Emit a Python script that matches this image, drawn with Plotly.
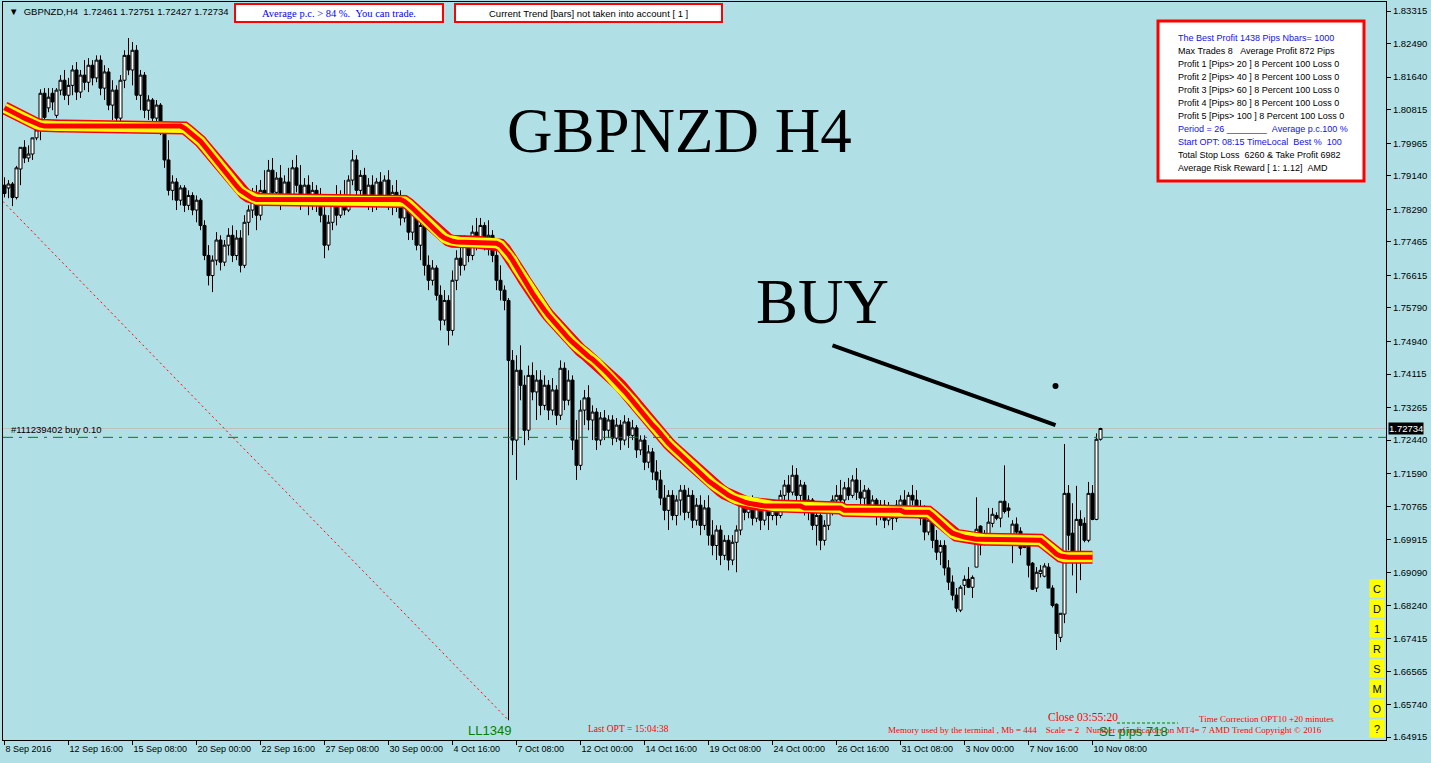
import plotly.graph_objects as go

# GBPNZD H4 bars, 8 Sep 2016 00:00 .. 10 Nov 2016 16:00 (one row = 16 bars)
opens = [
    1.7890, 1.7883, 1.7893, 1.7859, 1.7931, 1.7986, 1.7959, 1.7969, 1.8010, 1.8030, 1.8123, 1.8086, 1.8123, 1.8067, 1.8131, 1.8156,
    1.8118, 1.8143, 1.8182, 1.8126, 1.8169, 1.8151, 1.8194, 1.8162, 1.8207, 1.8136, 1.8177, 1.8093, 1.8131, 1.8060, 1.8156, 1.8219,
    1.8182, 1.8232, 1.8118, 1.8169, 1.8080, 1.8106, 1.8060, 1.8093, 1.8030, 1.7954, 1.7877, 1.7898, 1.7852, 1.7883, 1.7839, 1.7864,
    1.7827, 1.7852, 1.7788, 1.7712, 1.7661, 1.7700, 1.7751, 1.7695, 1.7738, 1.7763, 1.7712, 1.7756, 1.7687, 1.7796, 1.7827, 1.7864,
    1.7814, 1.7877, 1.7857, 1.7928, 1.7872, 1.7908, 1.7852, 1.7898, 1.7864, 1.7934, 1.7890, 1.7852, 1.7890, 1.7839, 1.7877, 1.7852,
    1.7814, 1.7738, 1.7796, 1.7839, 1.7814, 1.7864, 1.7827, 1.7903, 1.7954, 1.7877, 1.7915, 1.7857, 1.7890, 1.7839, 1.7898, 1.7864,
    1.7903, 1.7852, 1.7872, 1.7839, 1.7807, 1.7839, 1.7771, 1.7822, 1.7738, 1.7788, 1.7687, 1.7649, 1.7680, 1.7611, 1.7548, 1.7598,
    1.7522, 1.7649, 1.7705, 1.7687, 1.7738, 1.7712, 1.7771, 1.7751, 1.7788, 1.7738, 1.7763, 1.7712, 1.7649, 1.7624, 1.7598, 1.7446,
    1.7244, 1.7421, 1.7383, 1.7269, 1.7408, 1.7366, 1.7396, 1.7332, 1.7383, 1.7320, 1.7371, 1.7307, 1.7426, 1.7345, 1.7396, 1.7244,
    1.7180, 1.7320, 1.7351, 1.7295, 1.7315, 1.7244, 1.7300, 1.7269, 1.7295, 1.7249, 1.7282, 1.7244, 1.7290, 1.7256, 1.7275, 1.7219,
    1.7244, 1.7188, 1.7214, 1.7163, 1.7143, 1.7097, 1.7066, 1.7104, 1.7053, 1.7092, 1.7117, 1.7061, 1.7104, 1.7041, 1.7079, 1.7028,
    1.7072, 1.7003, 1.6977, 1.7016, 1.6952, 1.6990, 1.6940, 1.6985, 1.7016, 1.7079, 1.7061, 1.7087, 1.7046, 1.7079, 1.7041, 1.7072,
    1.7053, 1.7079, 1.7053, 1.7104, 1.7130, 1.7112, 1.7155, 1.7104, 1.7130, 1.7066, 1.7092, 1.7028, 1.7053, 1.6990, 1.7028, 1.7066,
    1.7092, 1.7104, 1.7092, 1.7123, 1.7104, 1.7143, 1.7112, 1.7097, 1.7117, 1.7079, 1.7092, 1.7053, 1.7079, 1.7041, 1.7072, 1.7046,
    1.7079, 1.7092, 1.7072, 1.7104, 1.7092, 1.7066, 1.7046, 1.7011, 1.7041, 1.6990, 1.6960, 1.6977, 1.6920, 1.6884, 1.6851, 1.6813,
    1.6876, 1.6891, 1.6871, 1.6922, 1.7026, 1.6998, 1.6982, 1.7033, 1.7053, 1.7046, 1.7089, 1.7072, 1.6977, 1.7031, 1.7013, 1.6977,
    1.6975, 1.6932, 1.6869, 1.6906, 1.6899, 1.6922, 1.6869, 1.6828, 1.6744, 1.6803, 1.7109, 1.7008, 1.6935, 1.7043, 1.7033, 1.6990,
    1.7109, 1.7043, 1.72461,
]
highs = [
    1.7910, 1.7903, 1.7898, 1.7939, 1.7986, 1.8004, 1.7991, 1.8010, 1.8047, 1.8133, 1.8136, 1.8136, 1.8136, 1.8136, 1.8169, 1.8182,
    1.8162, 1.8194, 1.8202, 1.8182, 1.8207, 1.8212, 1.8207, 1.8219, 1.8219, 1.8194, 1.8187, 1.8156, 1.8143, 1.8169, 1.8232, 1.8263,
    1.8253, 1.8245, 1.8182, 1.8177, 1.8118, 1.8111, 1.8106, 1.8098, 1.8042, 1.8004, 1.7915, 1.7908, 1.7890, 1.7890, 1.7877, 1.7872,
    1.7864, 1.7857, 1.7801, 1.7738, 1.7712, 1.7771, 1.7763, 1.7751, 1.7781, 1.7788, 1.7776, 1.7776, 1.7814, 1.7839, 1.7883, 1.7890,
    1.7903, 1.7928, 1.7954, 1.7959, 1.7923, 1.7941, 1.7915, 1.7934, 1.7954, 1.7966, 1.7941, 1.7908, 1.7915, 1.7898, 1.7890, 1.7883,
    1.7839, 1.7814, 1.7852, 1.7890, 1.7877, 1.7903, 1.7915, 1.7979, 1.7966, 1.7928, 1.7934, 1.7908, 1.7915, 1.7908, 1.7923, 1.7915,
    1.7928, 1.7890, 1.7903, 1.7877, 1.7852, 1.7852, 1.7839, 1.7827, 1.7807, 1.7796, 1.7712, 1.7700, 1.7687, 1.7636, 1.7624, 1.7611,
    1.7674, 1.7725, 1.7751, 1.7763, 1.7756, 1.7788, 1.7807, 1.7807, 1.7796, 1.7801, 1.7776, 1.7751, 1.7687, 1.7636, 1.7604, 1.7472,
    1.7459, 1.7484, 1.7408, 1.7433, 1.7441, 1.7421, 1.7421, 1.7408, 1.7396, 1.7401, 1.7383, 1.7446, 1.7441, 1.7421, 1.7408, 1.7295,
    1.7345, 1.7371, 1.7383, 1.7332, 1.7325, 1.7315, 1.7320, 1.7307, 1.7307, 1.7300, 1.7295, 1.7307, 1.7300, 1.7295, 1.7282, 1.7256,
    1.7256, 1.7231, 1.7224, 1.7193, 1.7168, 1.7130, 1.7117, 1.7117, 1.7104, 1.7130, 1.7130, 1.7123, 1.7117, 1.7097, 1.7104, 1.7092,
    1.7104, 1.7041, 1.7028, 1.7028, 1.7003, 1.7003, 1.7003, 1.7028, 1.7092, 1.7104, 1.7097, 1.7104, 1.7092, 1.7097, 1.7092, 1.7087,
    1.7092, 1.7092, 1.7117, 1.7143, 1.7155, 1.7180, 1.7173, 1.7143, 1.7138, 1.7104, 1.7097, 1.7079, 1.7066, 1.7041, 1.7079, 1.7104,
    1.7130, 1.7143, 1.7138, 1.7148, 1.7155, 1.7173, 1.7143, 1.7130, 1.7123, 1.7104, 1.7097, 1.7092, 1.7092, 1.7087, 1.7079, 1.7092,
    1.7104, 1.7117, 1.7112, 1.7130, 1.7117, 1.7092, 1.7079, 1.7053, 1.7046, 1.7016, 1.6990, 1.6990, 1.6940, 1.6901, 1.6869, 1.6876,
    1.6901, 1.6922, 1.6901, 1.7099, 1.7028, 1.7016, 1.7072, 1.7072, 1.7061, 1.7089, 1.7180, 1.7084, 1.7041, 1.7048, 1.7023, 1.6996,
    1.6982, 1.6935, 1.6922, 1.6927, 1.6932, 1.6932, 1.6876, 1.6830, 1.6805, 1.7234, 1.7130, 1.7084, 1.7128, 1.7066, 1.7048, 1.7138,
    1.7130, 1.7261, 1.72751,
]
lows = [
    1.7859, 1.7857, 1.7837, 1.7854, 1.7890, 1.7946, 1.7949, 1.7954, 1.8004, 1.8004, 1.8055, 1.8075, 1.8080, 1.8060, 1.8118, 1.8106,
    1.8093, 1.8118, 1.8106, 1.8111, 1.8131, 1.8126, 1.8143, 1.8151, 1.8118, 1.8106, 1.8080, 1.8055, 1.8035, 1.8050, 1.8136, 1.8169,
    1.8143, 1.8106, 1.8080, 1.8060, 1.8055, 1.8042, 1.8042, 1.8017, 1.7934, 1.7864, 1.7852, 1.7827, 1.7839, 1.7822, 1.7827, 1.7814,
    1.7796, 1.7776, 1.7700, 1.7636, 1.7619, 1.7687, 1.7674, 1.7685, 1.7712, 1.7695, 1.7700, 1.7669, 1.7680, 1.7763, 1.7807, 1.7776,
    1.7801, 1.7839, 1.7847, 1.7852, 1.7857, 1.7827, 1.7839, 1.7852, 1.7857, 1.7872, 1.7827, 1.7839, 1.7814, 1.7827, 1.7822, 1.7796,
    1.7705, 1.7725, 1.7776, 1.7788, 1.7807, 1.7814, 1.7822, 1.7890, 1.7852, 1.7864, 1.7839, 1.7827, 1.7822, 1.7827, 1.7852, 1.7839,
    1.7827, 1.7814, 1.7822, 1.7788, 1.7796, 1.7751, 1.7751, 1.7725, 1.7700, 1.7661, 1.7624, 1.7636, 1.7598, 1.7522, 1.7535, 1.7484,
    1.7509, 1.7624, 1.7661, 1.7674, 1.7695, 1.7700, 1.7725, 1.7731, 1.7725, 1.7712, 1.7695, 1.7624, 1.7598, 1.7573, 1.6534, 1.7206,
    1.7143, 1.7345, 1.7231, 1.7244, 1.7345, 1.7295, 1.7307, 1.7320, 1.7295, 1.7307, 1.7282, 1.7295, 1.7320, 1.7332, 1.7219, 1.7143,
    1.7168, 1.7282, 1.7269, 1.7244, 1.7219, 1.7231, 1.7244, 1.7249, 1.7231, 1.7239, 1.7219, 1.7231, 1.7224, 1.7244, 1.7199, 1.7206,
    1.7168, 1.7173, 1.7143, 1.7117, 1.7079, 1.7041, 1.7016, 1.7041, 1.7028, 1.7053, 1.7041, 1.7046, 1.7021, 1.7028, 1.7003, 1.7016,
    1.6977, 1.6952, 1.6940, 1.6927, 1.6940, 1.6914, 1.6927, 1.6909, 1.7003, 1.7041, 1.7046, 1.7028, 1.7036, 1.7016, 1.7028, 1.7016,
    1.7041, 1.7028, 1.7046, 1.7079, 1.7092, 1.7104, 1.7092, 1.7079, 1.7053, 1.7041, 1.7016, 1.6977, 1.6965, 1.6977, 1.7016, 1.7053,
    1.7066, 1.7079, 1.7079, 1.7092, 1.7097, 1.7092, 1.7079, 1.7066, 1.7061, 1.7053, 1.7028, 1.7041, 1.7021, 1.7028, 1.7016, 1.7036,
    1.7053, 1.7061, 1.7061, 1.7079, 1.7053, 1.7028, 1.6990, 1.7003, 1.6970, 1.6940, 1.6927, 1.6901, 1.6864, 1.6838, 1.6808, 1.6808,
    1.6851, 1.6869, 1.6844, 1.6922, 1.6952, 1.6977, 1.6982, 1.7023, 1.7041, 1.7023, 1.7058, 1.7048, 1.6932, 1.7003, 1.6952, 1.6970,
    1.6896, 1.6864, 1.6859, 1.6896, 1.6896, 1.6869, 1.6820, 1.6712, 1.6732, 1.6780, 1.6965, 1.6901, 1.6856, 1.6889, 1.6985, 1.6985,
    1.7041, 1.7041, 1.72427,
]
closes = [
    1.7869, 1.7893, 1.7859, 1.7934, 1.7986, 1.7959, 1.7969, 1.8010, 1.8030, 1.8123, 1.8062, 1.8113, 1.8101, 1.8131, 1.8156, 1.8118,
    1.8143, 1.8182, 1.8126, 1.8169, 1.8151, 1.8194, 1.8162, 1.8207, 1.8136, 1.8177, 1.8093, 1.8131, 1.8060, 1.8156, 1.8219, 1.8182,
    1.8232, 1.8118, 1.8169, 1.8080, 1.8106, 1.8060, 1.8093, 1.8030, 1.7954, 1.7877, 1.7898, 1.7852, 1.7883, 1.7839, 1.7864, 1.7827,
    1.7852, 1.7788, 1.7712, 1.7661, 1.7700, 1.7751, 1.7695, 1.7738, 1.7763, 1.7712, 1.7756, 1.7687, 1.7796, 1.7827, 1.7864, 1.7814,
    1.7877, 1.7857, 1.7928, 1.7872, 1.7908, 1.7852, 1.7898, 1.7864, 1.7934, 1.7890, 1.7852, 1.7890, 1.7839, 1.7877, 1.7852, 1.7814,
    1.7738, 1.7796, 1.7839, 1.7814, 1.7864, 1.7827, 1.7903, 1.7954, 1.7877, 1.7915, 1.7857, 1.7890, 1.7839, 1.7898, 1.7864, 1.7903,
    1.7852, 1.7872, 1.7839, 1.7807, 1.7839, 1.7771, 1.7822, 1.7738, 1.7788, 1.7687, 1.7649, 1.7680, 1.7611, 1.7548, 1.7598, 1.7522,
    1.7649, 1.7705, 1.7687, 1.7738, 1.7712, 1.7771, 1.7751, 1.7788, 1.7738, 1.7763, 1.7712, 1.7649, 1.7624, 1.7598, 1.7446, 1.7244,
    1.7421, 1.7383, 1.7269, 1.7408, 1.7366, 1.7396, 1.7332, 1.7383, 1.7320, 1.7371, 1.7307, 1.7426, 1.7345, 1.7396, 1.7244, 1.7180,
    1.7320, 1.7351, 1.7295, 1.7315, 1.7244, 1.7300, 1.7269, 1.7295, 1.7249, 1.7282, 1.7244, 1.7290, 1.7256, 1.7275, 1.7219, 1.7244,
    1.7188, 1.7214, 1.7163, 1.7143, 1.7097, 1.7066, 1.7104, 1.7053, 1.7092, 1.7117, 1.7061, 1.7104, 1.7041, 1.7079, 1.7028, 1.7072,
    1.7003, 1.6977, 1.7016, 1.6952, 1.6990, 1.6940, 1.6985, 1.7016, 1.7079, 1.7061, 1.7087, 1.7046, 1.7079, 1.7041, 1.7072, 1.7053,
    1.7079, 1.7053, 1.7104, 1.7130, 1.7112, 1.7155, 1.7104, 1.7130, 1.7066, 1.7092, 1.7028, 1.7053, 1.6990, 1.7028, 1.7066, 1.7092,
    1.7104, 1.7092, 1.7123, 1.7104, 1.7143, 1.7112, 1.7097, 1.7117, 1.7079, 1.7092, 1.7053, 1.7079, 1.7041, 1.7072, 1.7046, 1.7079,
    1.7092, 1.7072, 1.7104, 1.7092, 1.7066, 1.7046, 1.7011, 1.7041, 1.6990, 1.6960, 1.6977, 1.6920, 1.6884, 1.6851, 1.6818, 1.6871,
    1.6891, 1.6871, 1.6896, 1.7018, 1.6985, 1.6985, 1.7036, 1.7056, 1.7046, 1.7089, 1.7063, 1.7066, 1.7031, 1.7011, 1.6970, 1.6972,
    1.6927, 1.6866, 1.6909, 1.6914, 1.6925, 1.6869, 1.6825, 1.6754, 1.6805, 1.7109, 1.7003, 1.6935, 1.7043, 1.7028, 1.6990, 1.7109,
    1.7043, 1.7246, 1.72734,
]

# AMD trend band buffer
trend = (
    [1.8086, 1.8080, 1.8075, 1.8070, 1.8065, 1.8060, 1.8055, 1.8050, 1.8045, 1.8042] + [1.8040] * 35
    + [1.8035, 1.8027, 1.8020, 1.8012, 1.8001, 1.7989, 1.7976, 1.7961, 1.7949, 1.7936, 1.7923, 1.7913,
       1.7900, 1.7888, 1.7877, 1.7869, 1.7862, 1.7857] + [1.7854] * 37
    + [1.7849, 1.7842, 1.7832, 1.7822, 1.7812, 1.7801, 1.7791, 1.7781, 1.7771, 1.7763, 1.7756, 1.7751, 1.7748]
    + [1.7746] * 10
    + [1.7743, 1.7738, 1.7728, 1.7715, 1.7700, 1.7682, 1.7666, 1.7649, 1.7631, 1.7616, 1.7601, 1.7585, 1.7573,
       1.7560, 1.7548, 1.7535, 1.7522, 1.7512, 1.7502, 1.7492, 1.7482, 1.7472, 1.7464, 1.7456, 1.7449, 1.7441,
       1.7431, 1.7421, 1.7411, 1.7401, 1.7391, 1.7381, 1.7368, 1.7356, 1.7343, 1.7330, 1.7317, 1.7305, 1.7295,
       1.7282, 1.7272, 1.7259, 1.7249, 1.7236, 1.7226, 1.7216, 1.7206, 1.7196, 1.7186, 1.7176, 1.7168, 1.7158,
       1.7150, 1.7140, 1.7133, 1.7125, 1.7117, 1.7110, 1.7104, 1.7099, 1.7094, 1.7092, 1.7087, 1.7084, 1.7082, 1.7079]
    + [1.7077] * 11 + [1.7072] * 10 + [1.7066] * 15 + [1.7061] * 7
    + [1.7053, 1.7043, 1.7033, 1.7023, 1.7016, 1.7008, 1.7003, 1.7001, 1.6998, 1.6996]
    + [1.6993] * 17
    + [1.6990, 1.6982, 1.6972, 1.6962, 1.6955, 1.6950] + [1.6947] * 8 + [None, None]
)

tick_bars = [0, 16, 32, 48, 64, 80, 96, 112, 128, 144, 160, 176, 192, 208, 224, 240, 256, 272]
tick_labels = ["8 Sep 2016", "12 Sep 16:00", "15 Sep 08:00", "20 Sep 00:00", "22 Sep 16:00", "27 Sep 08:00",
               "30 Sep 00:00", "4 Oct 16:00", "7 Oct 08:00", "12 Oct 00:00", "14 Oct 16:00", "19 Oct 08:00",
               "24 Oct 00:00", "26 Oct 16:00", "31 Oct 08:00", "3 Nov 00:00", "7 Nov 16:00", "10 Nov 08:00"]
price_ticks = [1.83315, 1.82490, 1.81640, 1.80815, 1.79965, 1.79140, 1.78290, 1.77465, 1.76615, 1.75790, 1.74940,
               1.74115, 1.73265, 1.72440, 1.71590, 1.70765, 1.69915, 1.69090, 1.68240, 1.67415, 1.66565, 1.65740, 1.64915]

# objects drawn on the chart (bar index, price)
buy_line_x = [207, 262.75]
buy_line_y = [1.7484, 1.7282]
buy_dot_x = [262.75]
buy_dot_y = [1.7381]
ll_line_x = [-0.4, 126]
ll_line_y = [1.7849, 1.6534]
order_price = 1.7251

info_lines = [
    ("The Best Profit 1438 Pips Nbars= 1000", "#1010F0"),
    ("Max Trades 8   Average Profit 872 Pips", "black"),
    ("Profit 1 [Pips> 20 ] 8 Percent 100 Loss 0", "black"),
    ("Profit 2 [Pips> 40 ] 8 Percent 100 Loss 0", "black"),
    ("Profit 3 [Pips> 60 ] 8 Percent 100 Loss 0", "black"),
    ("Profit 4 [Pips> 80 ] 8 Percent 100 Loss 0", "black"),
    ("Profit 5 [Pips> 100 ] 8 Percent 100 Loss 0", "black"),
    ("Period = 26 ________  Average p.c.100 %", "#1010F0"),
    ("Start OPT: 08:15 TimeLocal  Best %  100", "#1010F0"),
    ("Total Stop Loss  6260 & Take Profit 6982", "black"),
    ("Average Risk Reward [ 1: 1.12]  AMD", "black"),
]
buttons = ["C", "D", "1", "R", "S", "M", "O", "?"]

SANS = "Liberation Sans"
SERIF = "Liberation Serif"
BG = "#B0E0E6"


def px(x):
    return (x - 3) / 1383


def py(y):
    return (740 - y) / 738


def nb(s):
    return s.replace(" ", "\u00a0")


bars = list(range(len(closes)))

fig = go.Figure()
for color, width in [("#FF0000", 13), ("#FFFF00", 10), ("#FF0000", 5)]:
    fig.add_trace(go.Scatter(x=bars, y=trend, mode="lines", line=dict(color=color, width=width),
                             hoverinfo="skip", connectgaps=False))

fig.add_trace(go.Scatter(x=ll_line_x, y=ll_line_y, mode="lines",
                         line=dict(color="#FF0000", width=1, dash="2px,3px"), hoverinfo="skip"))

fig.add_trace(go.Candlestick(
    x=bars, open=opens, high=highs, low=lows, close=closes,
    increasing=dict(fillcolor="white", line=dict(color="black", width=1)),
    decreasing=dict(fillcolor="black", line=dict(color="black", width=1)),
    hoverinfo="skip",
))

fig.add_trace(go.Scatter(x=buy_line_x, y=buy_line_y, mode="lines", line=dict(color="black", width=4),
                         hoverinfo="skip"))
fig.add_trace(go.Scatter(x=buy_dot_x, y=buy_dot_y, mode="markers", marker=dict(color="black", size=6),
                         hoverinfo="skip"))

shapes = [
    dict(type="line", xref="paper", x0=0, x1=1, yref="y", y0=closes[-1], y1=closes[-1],
         line=dict(color="#C0C0C0", width=1), layer="below"),
    dict(type="line", xref="paper", x0=0, x1=1, yref="y", y0=order_price, y1=order_price,
         line=dict(color="#008000", width=1, dash="10px,6px,3px,6px")),
    dict(type="rect", xref="paper", yref="paper", x0=px(235), x1=px(443), y0=py(22), y1=py(4),
         fillcolor="white", line=dict(color="#FF0000", width=2)),
    dict(type="rect", xref="paper", yref="paper", x0=px(455), x1=px(722), y0=py(22), y1=py(4),
         fillcolor="white", line=dict(color="#FF0000", width=2)),
    dict(type="rect", xref="paper", yref="paper", x0=px(1158), x1=px(1364), y0=py(181), y1=py(21),
         fillcolor="white", line=dict(color="#FF0000", width=3)),
    dict(type="line", xref="paper", yref="paper", x0=px(1117), x1=px(1178), y0=py(723), y1=py(723),
         line=dict(color="#008000", width=1, dash="3px,2px")),
]

ann = []


def note(text, x, y, size, color="black", family=SANS, xanchor="left", **kw):
    ann.append(dict(text=nb(text), xref="paper", yref="paper", x=px(x), y=py(y), showarrow=False,
                    xanchor=xanchor, yanchor="middle", font=dict(family=family, size=size, color=color), **kw))


note("\u25bc  GBPNZD,H4  1.72461 1.72751 1.72427 1.72734", 7, 11, 9.5)
note("Average p.c. > 84 %.  You can trade.", 339, 13, 10.5, "#0000FF", SERIF, "center")
note("Current Trend [bars] not taken into account [ 1 ]", 588, 13, 9.5, "black", SANS, "center")
for k, (line, color) in enumerate(info_lines):
    note(line, 1176, 37.7 + 13 * k, 9, color)
note("GBPNZD H4", 679, 131, 63, "black", SERIF, "center")
note("BUY", 822, 302, 63, "black", SERIF, "center")
note("LL1349", 466, 730, 13, "#008000")
note("Last OPT = 15:04:38", 586, 729, 9.5, "#FF0000", SERIF)
note("Close 03:55:20", 1046, 717, 11.5, "#FF0000", SERIF)
note("Time Correction OPT10 +20 minutes", 1197, 719, 9, "#FF0000", SERIF)
note("Memory used by the terminal , Mb = 444    Scale = 2   Number of indicators on MT4= 7 AMD Trend Copyright \u00a9 2016",
     886, 730, 9, "#FF0000", SERIF)
note("SL pips 718", 1097, 731, 13, "#008000")
for k, b in enumerate(buttons):
    note(b, 1376.5, 588 + 20 * k, 11, "black", SANS, "center", bgcolor="#FFFF00", width=12, height=15)

ann.append(dict(text=nb("#111239402 buy 0.10"), xref="paper", yref="y", x=px(9), y=order_price,
                showarrow=False, xanchor="left", yanchor="bottom", font=dict(family=SANS, size=9.5, color="black")))
ann.append(dict(text="1.72734", xref="paper", yref="y", x=1, xshift=2, y=closes[-1], showarrow=False,
                xanchor="left", yanchor="middle", bgcolor="black", borderpad=0,
                font=dict(family=SANS, size=9.5, color="white")))

fig.update_layout(
    width=1431, height=763,
    margin=dict(l=3, r=45, t=2, b=23),
    paper_bgcolor=BG, plot_bgcolor=BG,
    showlegend=False, hovermode=False,
    boxgap=0.25, boxgroupgap=0,
    font=dict(family=SANS, size=9.5, color="black"),
    shapes=shapes, annotations=ann,
)
fig.update_xaxes(
    range=[-0.375, 345.375], tickvals=tick_bars, ticktext=tick_labels,
    ticks="outside", ticklen=4, tickcolor="black", ticklabelposition="outside right",
    tickfont=dict(family=SANS, size=9), showgrid=False, zeroline=False,
    showline=True, linecolor="black", linewidth=1, mirror=True, rangeslider_visible=False,
)
fig.update_yaxes(
    side="right", range=[1.64839, 1.83543], tickvals=price_ticks,
    ticktext=[f"{v:.5f}" for v in price_ticks],
    ticks="outside", ticklen=4, tickcolor="black", tickfont=dict(family=SANS, size=9.5),
    showgrid=False, zeroline=False, showline=True, linecolor="black", linewidth=1, mirror=True,
)

# the page's default body margin would push the chart off the 1431x763 window
fig.write_html("out.html", config={"displayModeBar": False},
               post_script="document.body.style.margin='0';document.body.style.overflow='hidden';")
